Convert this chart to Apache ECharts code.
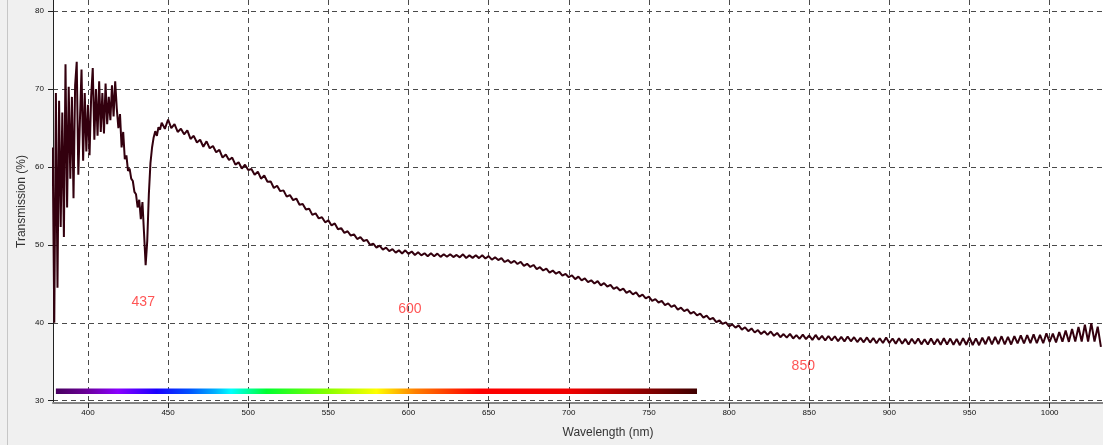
<!DOCTYPE html>
<html lang="en">
  <head>
    <meta charset="UTF-8" />
    <title>Transmission spectrum</title>
    <script src="https://cdn.jsdelivr.net/npm/echarts@6/dist/echarts.min.js"></script>
    <style>
      body { margin: 0; background: #f0f0f0; }
    </style>
  </head>

  <body>
    <div id="main" style="width: 1103px; height: 445px"></div>
    <script type="text/javascript">
      // blue end of the scan, 378-445 nm, one reading per nm
      const blueStart = 378;
      const blueStep = 1;
      const blueValues = [
        62.5, 40.0, 69.5, 44.5, 68.5, 52.3, 67.0, 51.0, 73.2, 54.8,
        70.3, 58.5, 69.0, 56.0, 70.5, 73.5, 59.0, 66.0, 72.5, 60.8,
        69.5, 62.0, 68.0, 61.5, 69.0, 72.7, 63.5, 70.0, 64.0, 71.0,
        64.5, 69.5, 64.3, 70.7, 65.5, 69.0, 66.0, 70.5, 66.5, 71.0,
        67.5, 65.0, 66.8, 62.5, 64.5, 61.0, 61.5, 59.5, 59.8, 58.5,
        58.2, 56.8, 56.5, 54.8, 55.8, 53.3, 55.5, 51.5, 47.4, 50.5,
        56.5, 60.5, 62.5, 63.8, 64.6, 64.0, 65.1, 64.8
      ];

      // rest of the scan, 446-1032 nm, one reading every 2 nm
      const mainStart = 446;
      const mainStep = 2;
      const mainValues = [
        65.7, 64.9, 66.1, 65.0, 65.5, 64.5, 64.9, 64.2, 64.7, 63.6,
        64.0, 63.15, 63.5, 62.6, 63.3, 62.4, 62.7, 61.9, 62.2, 61.2,
        61.6, 60.9, 61.2, 60.3, 60.6, 59.8, 60.3, 59.6, 59.75, 59.0,
        59.4, 58.5, 58.9, 58.1, 58.15, 57.3, 57.6, 56.9, 57.0, 56.2,
        56.4, 55.75, 55.95, 55.15, 55.25, 54.55, 54.65, 53.85, 54.05, 53.4,
        53.55, 52.9, 53.15, 52.5, 52.75, 52.0, 52.15, 51.55, 51.75, 51.2,
        51.35, 50.75, 51.0, 50.5, 50.65, 50.0, 50.15, 49.65, 49.9, 49.4,
        49.65, 49.2, 49.45, 49.0, 49.3, 48.9, 49.3, 48.85, 49.15, 48.7,
        49.05, 48.65, 48.93, 48.55, 48.92, 48.55, 48.88, 48.46, 48.79, 48.47,
        48.8, 48.43, 48.71, 48.4, 48.79, 48.32, 48.65, 48.33, 48.66, 48.3,
        48.67, 48.25, 48.55, 48.1, 48.4, 48.05, 48.3, 47.8, 48.05, 47.67,
        47.95, 47.55, 47.83, 47.3, 47.57, 47.17, 47.42, 46.9, 47.13, 46.71,
        46.95, 46.45, 46.7, 46.3, 46.55, 46.05, 46.27, 45.85, 46.1, 45.6,
        45.92, 45.45, 45.7, 45.22, 45.45, 45.05, 45.35, 44.8, 45.09, 44.65,
        44.88, 44.35, 44.57, 44.15, 44.38, 43.85, 44.08, 43.65, 43.89, 43.35,
        43.62, 43.13, 43.35, 42.82, 43.03, 42.6, 42.8, 42.28, 42.5, 42.05,
        42.25, 41.7, 41.93, 41.5, 41.72, 41.18, 41.4, 40.95, 41.18, 40.66,
        40.92, 40.43, 40.64, 40.08, 40.29, 39.85, 40.05, 39.55, 39.8, 39.37,
        39.67, 39.12, 39.42, 38.92, 39.28, 38.75, 39.07, 38.55, 38.92, 38.45,
        38.88, 38.32, 38.7, 38.15, 38.55, 38.1, 38.57, 37.99, 38.41, 37.94,
        38.47, 37.9, 38.37, 37.8, 38.44, 37.83, 38.31, 37.73, 38.3, 37.73,
        38.27, 37.65, 38.18, 37.61, 38.24, 37.62, 38.15, 37.53, 38.06, 37.49,
        38.12, 37.46, 38.05, 37.38, 38.02, 37.41, 38.1, 37.4, 37.98, 37.32,
        38.01, 37.3, 37.93, 37.22, 37.96, 37.3, 37.99, 37.23, 37.88, 37.22,
        37.97, 37.22, 37.92, 37.17, 38.02, 37.22, 37.97, 37.17, 37.92, 37.12,
        38.02, 37.18, 38.08, 37.15, 38.0, 37.12, 38.08, 37.25, 38.21, 37.23,
        38.19, 37.25, 38.27, 37.23, 38.2, 37.21, 38.28, 37.35, 38.37, 37.34,
        38.41, 37.38, 38.5, 37.37, 38.45, 37.37, 38.65, 37.53, 38.6, 37.48,
        38.82, 37.56, 39.0, 37.55, 39.2, 37.58, 39.45, 37.6, 39.75, 37.6,
        39.95, 37.6, 39.5, 36.9
      ];

      // peak marks written on the plot
      const noteLabels = ["437", "600", "850"];
      const noteX = [434.5, 600.9, 846.3];
      const noteY = [42.7, 41.8, 34.45];

      // visible spectrum strip
      const barRange = [380, 780];
      const barLevel = 31.2;

      const xTicks = [400, 450, 500, 550, 600, 650, 700, 750, 800, 850, 900, 950, 1000];
      const yTicks = [30, 40, 50, 60, 70, 80];

      let spectrum = [];
      blueValues.forEach((v, i) => spectrum.push([blueStart + i * blueStep, v]));
      mainValues.forEach((v, i) => spectrum.push([mainStart + i * mainStep, v]));

      const notes = noteLabels.map((t, i) => ({ name: t, value: [noteX[i], noteY[i]] }));

      const rainbow = new echarts.graphic.LinearGradient(0, 0, 1, 0, [
        { offset: 0, color: "#45005a" },
        { offset: 0.05, color: "#6a0096" },
        { offset: 0.1, color: "#8a00ff" },
        { offset: 0.16, color: "#1a00ff" },
        { offset: 0.21, color: "#0050ff" },
        { offset: 0.25, color: "#00b0ff" },
        { offset: 0.275, color: "#00ffff" },
        { offset: 0.33, color: "#00ff30" },
        { offset: 0.42, color: "#80ff00" },
        { offset: 0.5, color: "#ffff00" },
        { offset: 0.56, color: "#ff8000" },
        { offset: 0.63, color: "#ff2000" },
        { offset: 0.66, color: "#ff0000" },
        { offset: 0.8, color: "#f00000" },
        { offset: 0.9, color: "#9a0000" },
        { offset: 1, color: "#3a0000" },
      ]);

      const tickFont = { fontFamily: "Liberation Sans", fontSize: 8, color: "#111" };
      const dashed = { color: "#4a4a4a", type: [5, 4], width: 1 };

      let options = {
        animation: false,
        backgroundColor: "#f0f0f0",
        graphic: [
          {
            type: "line",
            shape: { x1: 7.5, y1: 0, x2: 7.5, y2: 445 },
            style: { stroke: "#c6c6c6", lineWidth: 1 },
          },
        ],
        grid: {
          left: 53,
          right: 0,
          top: 0,
          bottom: 42,
          show: true,
          backgroundColor: "#fff",
          borderWidth: 0,
          outerBoundsMode: "none",
        },
        xAxis: {
          type: "value",
          min: 378.2,
          max: 1033.3,
          minInterval: 50,
          maxInterval: 50,
          name: "Wavelength (nm)",
          nameLocation: "middle",
          nameGap: 24,
          nameMoveOverlap: false,
          nameTextStyle: {
            fontFamily: "Liberation Sans",
            fontSize: 12,
            color: "#333",
            padding: [0, 0, 0, 60],
          },
          axisLine: { lineStyle: { color: "#858585", width: 2 } },
          axisTick: { show: true, length: 5, lineStyle: { color: "#222" } },
          axisLabel: {
            ...tickFont,
            margin: 6,
            showMinLabel: false,
            showMaxLabel: false,
            formatter: (v) => (xTicks.includes(v) ? String(v) : ""),
          },
          splitLine: { show: true, showMinLine: false, showMaxLine: false, lineStyle: dashed },
        },
        yAxis: {
          type: "value",
          min: 29.7,
          max: 81.44,
          minInterval: 10,
          maxInterval: 10,
          name: "Transmission (%)",
          nameLocation: "middle",
          nameGap: 25,
          nameRotate: 90,
          nameMoveOverlap: false,
          nameTextStyle: { fontFamily: "Liberation Sans", fontSize: 12, color: "#333" },
          axisLine: { show: true, lineStyle: { color: "#222", width: 1 } },
          axisTick: { show: true, length: 5, lineStyle: { color: "#222" } },
          axisLabel: {
            ...tickFont,
            margin: 9,
            showMinLabel: false,
            showMaxLabel: false,
            formatter: (v) => (yTicks.includes(v) ? String(v) : ""),
          },
          splitLine: { show: true, showMinLine: false, showMaxLine: false, lineStyle: dashed },
        },
        series: [
          {
            name: "strip",
            type: "line",
            data: [
              [barRange[0], barLevel],
              [barRange[1], barLevel],
            ],
            showSymbol: false,
            silent: true,
            lineStyle: { color: rainbow, width: 5.5, cap: "butt" },
          },
          {
            name: "Transmission",
            type: "line",
            data: spectrum,
            showSymbol: false,
            lineStyle: { color: "#33000e", width: 2 },
          },
          {
            name: "peaks",
            type: "scatter",
            data: notes,
            symbolSize: 1,
            itemStyle: { color: "transparent" },
            silent: true,
            label: {
              show: true,
              position: "inside",
              formatter: (p) => p.name,
              fontFamily: "Liberation Sans",
              fontSize: 14,
              color: "#ff2a2a",
            },
          },
        ],
      };

      let myChart = echarts.init(document.getElementById("main"));
      myChart.setOption(options);
    </script>
  </body>
</html>
